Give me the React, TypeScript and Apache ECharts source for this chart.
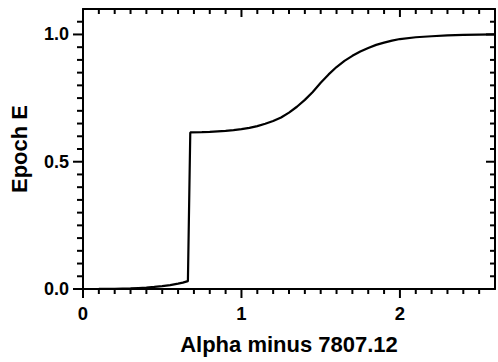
import React, { useEffect, useRef } from "react";
import * as echarts from "echarts";

const alphaValues = [
  0, 0.1, 0.2, 0.3, 0.35, 0.4, 0.45, 0.5, 0.55, 0.6, 0.63, 0.662,
  0.677, 0.75, 0.8, 0.85, 0.9, 0.95, 1.0, 1.05, 1.1, 1.15,
  1.2, 1.25, 1.3, 1.35, 1.4, 1.45, 1.5, 1.55, 1.6, 1.65,
  1.7, 1.75, 1.8, 1.85, 1.9, 1.95, 2.0, 2.1, 2.2, 2.3,
  2.4, 2.5, 2.6,
];
const epochValues = [
  0, 0.0002, 0.0008, 0.0025, 0.004, 0.0055, 0.008, 0.011, 0.015, 0.021, 0.025, 0.031,
  0.615, 0.616, 0.617, 0.619, 0.621, 0.624, 0.628, 0.633, 0.64, 0.649,
  0.66, 0.674, 0.693, 0.716, 0.743, 0.774, 0.81, 0.843, 0.872, 0.896,
  0.916, 0.933, 0.947, 0.959, 0.968, 0.976, 0.982, 0.989, 0.993, 0.996,
  0.998, 0.999, 1.0,
];

const xMin = 0;
const xMax = 2.6;
const xMajor = 1;
const xMinor = 0.1;
const yMin = 0;
const yMax = 1.1;
const yMajor = 0.5;
const yMinor = 0.05;

const xTickLabels = ["0", "1", "2"];
const yTickLabels = ["0.0", "0.5", "1.0"];

const xTitle = "Alpha minus 7807.12";
const yTitle = "Epoch E";

const FONT = "'Liberation Sans', Arial, sans-serif";

function steps(from: number, to: number, step: number): number[] {
  const out: number[] = [];
  const n = Math.floor((to - from) / step + 1e-9);
  for (let i = 0; i <= n; i++) out.push(Math.round((from + i * step) * 1e6) / 1e6);
  return out;
}

function isMultiple(v: number, step: number) {
  const r = v / step;
  return Math.abs(r - Math.round(r)) < 1e-6;
}

// side: 0 bottom, 1 top, 2 left, 3 right ; major: 1 / 0
function buildTicks() {
  const data: number[][] = [];
  steps(xMin, xMax - 1e-6, xMinor).forEach((v) => {
    const major = isMultiple(v, xMajor) ? 1 : 0;
    data.push([v, yMin, 0, major]);
    data.push([v, yMax, 1, major]);
  });
  steps(yMin, yMax - 1e-6, yMinor).forEach((v) => {
    const major = isMultiple(v, yMajor) ? 1 : 0;
    data.push([xMin, v, 2, major]);
    data.push([xMax, v, 3, major]);
  });
  return data;
}

export default function App() {
  const ref = useRef<HTMLDivElement>(null);

  useEffect(() => {
    if (!ref.current) return;
    const chart = echarts.init(ref.current, undefined, { renderer: "svg" });
    const line = { show: true, onZero: false, lineStyle: { color: "#000", width: 2 } };
    const labelStyle = {
      color: "#000",
      fontWeight: "bold" as const,
      fontFamily: FONT,
    };
    const noTick = { show: false };

    const xBase = { type: "value" as const, min: xMin, max: xMax, gridIndex: 0, splitLine: { show: false } };
    const yBase = { type: "value" as const, min: yMin, max: yMax, gridIndex: 0, splitLine: { show: false } };

    const tickLen = [
      [5, 9], // bottom: minor, major (outward, down)
      [5, 8], // top: inward, down
      [6, 10], // left: outward, left
      [5, 9], // right: inward, left
    ];

    chart.setOption({
      animation: false,
      backgroundColor: "#fff",
      grid: { left: 80, top: 9, width: 419, height: 280, containLabel: false },
      xAxis: [
        {
          ...xBase,
          position: "bottom",
          interval: xMajor,
          axisLine: line,
          axisTick: noTick,
          axisLabel: {
            ...labelStyle,
            fontSize: 18.5,
            margin: 15,
            formatter: (v: number) => {
              if (!isMultiple(v, xMajor)) return "";
              const i = Math.round(v / xMajor);
              return xTickLabels[i] ?? "";
            },
          },
          name: xTitle,
          nameLocation: "middle",
          nameGap: 44,
          nameTextStyle: { ...labelStyle, fontSize: 22 },
        },
        {
          ...xBase,
          position: "top",
          interval: xMajor,
          axisLine: line,
          axisTick: noTick,
          axisLabel: { show: false },
        },
      ],
      yAxis: [
        {
          ...yBase,
          position: "left",
          interval: yMajor,
          axisLine: line,
          axisTick: noTick,
          axisLabel: {
            ...labelStyle,
            fontSize: 18,
            margin: 14,
            formatter: (v: number) => {
              if (!isMultiple(v, yMajor)) return "";
              const i = Math.round(v / yMajor);
              return yTickLabels[i] ?? "";
            },
          },
          name: yTitle,
          nameLocation: "middle",
          nameGap: 53,
          nameRotate: 90,
          nameTextStyle: { ...labelStyle, fontSize: 22 },
        },
        {
          ...yBase,
          position: "right",
          interval: yMajor,
          axisLine: line,
          axisTick: noTick,
          axisLabel: { show: false },
        },
      ],
      series: [
        {
          type: "line",
          xAxisIndex: 0,
          yAxisIndex: 0,
          data: alphaValues.map((a, i) => [a, epochValues[i]]),
          showSymbol: false,
          symbol: "none",
          lineStyle: { color: "#000", width: 2.2 },
          smooth: false,
          z: 3,
        },
        {
          type: "custom",
          xAxisIndex: 0,
          yAxisIndex: 0,
          silent: true,
          clip: false,
          encode: { x: 0, y: 1 },
          data: buildTicks(),
          z: 4,
          renderItem: (_params: any, api: any) => {
            const side = api.value(2);
            const major = api.value(3);
            const p = api.coord([api.value(0), api.value(1)]);
            const len = tickLen[side][major ? 1 : 0];
            let x2 = p[0];
            let y2 = p[1];
            if (side === 0 || side === 1) y2 = p[1] + len;
            else x2 = p[0] - len;
            return {
              type: "line",
              shape: { x1: p[0], y1: p[1], x2, y2 },
              style: { stroke: "#000", lineWidth: 2 },
            };
          },
        },
      ],
    });

    return () => chart.dispose();
  }, []);

  return (
    <div
      ref={ref}
      style={{ position: "absolute", left: 0, top: 0, width: 498, height: 362 }}
    />
  );
}
